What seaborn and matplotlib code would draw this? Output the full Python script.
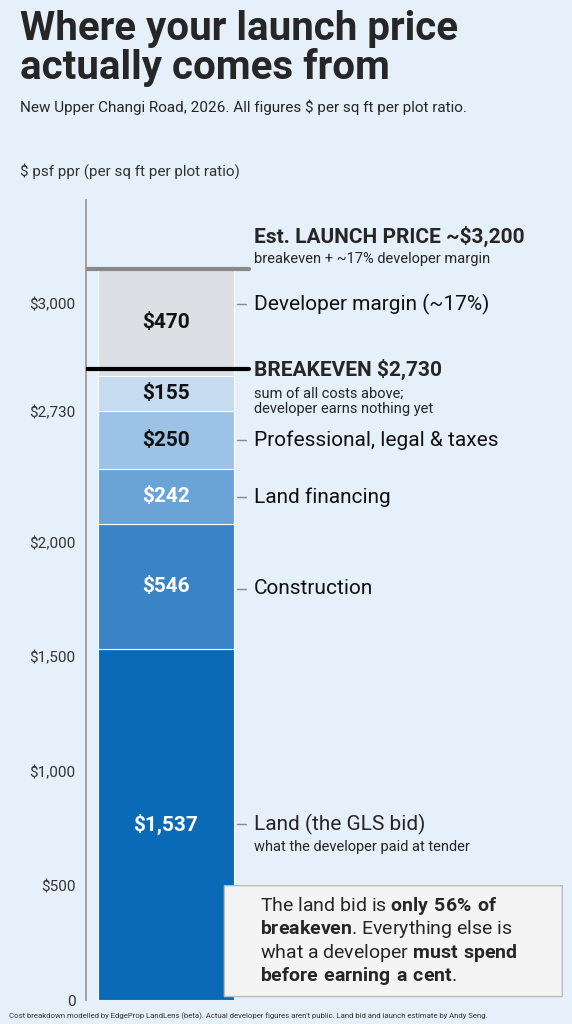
import matplotlib
matplotlib.use("Agg")
import matplotlib.pyplot as plt
import seaborn as sns
import pandas as pd
from matplotlib.patches import FancyBboxPatch

segments = ["Land (the GLS bid)", "Construction", "Land financing",
            "Professional, legal & taxes", "Breakeven gap", "Developer margin (~17%)"]
values = [1537, 546, 242, 250, 155, 470]
seg_labels = ["$1,537", "$546", "$242", "$250", "$155", "$470"]
colors = ["#0b6ab7", "#3a83c4", "#6aa3d5", "#9cc2e6", "#c4dbf0", "#dcdfe4"]
text_colors = ["white", "white", "white", "#111111", "#111111", "#111111"]
tick_vals = [0, 500, 1000, 1500, 2000, 2575, 3045]
tick_labels = ["0", "$500", "$1,000", "$1,500", "$2,000", "$2,730", "$3,000"]
breakeven = 2730
launch = 3200

bg = "#e6f0fa"
sns.set_theme(style="white")
plt.rcParams['font.family'] = ['Roboto', 'DejaVu Sans']
plt.rcParams['mathtext.fontset'] = 'custom'
plt.rcParams['mathtext.rm'] = 'Roboto'
plt.rcParams['mathtext.bf'] = 'Roboto:bold'

fig = plt.figure(figsize=(5.72, 10.24), dpi=100, facecolor=bg)
ax = fig.add_axes([0.15, 1 - 1000/1024, 0.85, 800/1024])
ax.set_facecolor(bg)
ax.set_xlim(0, 1)
ax.set_ylim(0, 3500)

df = pd.DataFrame({"seg": segments, "val": values})
bottom = 0
for i, v in enumerate(df["val"]):
    ax.bar(0.165, v, width=0.28, bottom=bottom, color=colors[i], edgecolor="white", linewidth=0.8, zorder=2)
    ax.text(0.165, bottom + v/2, seg_labels[i], ha="center", va="center",
            fontsize=15, fontweight="bold", color=text_colors[i], zorder=3)
    bottom += v

ax.set_yticks(tick_vals)
ax.set_yticklabels(tick_labels, fontsize=11, color="#333333")
ax.tick_params(axis="y", length=4, color="#888888")
ax.set_xticks([])
for s in ["top", "right", "bottom"]:
    ax.spines[s].set_visible(False)
ax.spines["left"].set_color("#999999")

ax.plot([0.0, 0.335], [launch, launch], color="#888888", lw=3, zorder=4)
ax.plot([0.0, 0.335], [breakeven + 30, breakeven + 30], color="black", lw=3, zorder=4)

def lab(y, title):
    ax.plot([0.31, 0.33], [y, y], color="#888888", lw=1)
    ax.text(0.345, y, title, ha="left", va="center", fontsize=15, color="#111111")

ax.text(0.345, launch + 140, "Est. LAUNCH PRICE ~$3,200", fontsize=15, fontweight="bold", va="center")
ax.text(0.345, launch + 40, "breakeven + ~17% developer margin", fontsize=10.5, va="center")
ax.text(0.345, breakeven + 30, "BREAKEVEN $2,730", fontsize=15, fontweight="bold", va="center")
ax.text(0.345, breakeven - 110, "sum of all costs above;\ndeveloper earns nothing yet", fontsize=10.5, va="center", linespacing=1.1)
lab(3045, "Developer margin (~17%)")
lab(2450, "Professional, legal & taxes")
lab(2200, "Land financing")
lab(1800, "Construction")
ax.plot([0.31, 0.33], [768, 768], color="#888888", lw=1)
ax.text(0.345, 768, "Land (the GLS bid)", fontsize=15, va="center")
ax.text(0.345, 670, "what the developer paid at tender", fontsize=10.5, va="center")

box = FancyBboxPatch((0.29, 15), 0.685, 485, boxstyle="round,pad=0.005,rounding_size=0.03",
                     transform=ax.transData, facecolor="#f4f4f4", edgecolor="#bbbbbb", lw=1, zorder=5)
ax.add_patch(box)
fig.text(0.455, 0.081, "The land bid is $\\bf{only\\ 56\\%\\ of}$\n$\\bf{breakeven}$. Everything else is\nwhat a developer $\\bf{must\\ spend}$\n$\\bf{before\\ earning\\ a\\ cent}$.",
         fontsize=14, va="center", ha="left", linespacing=1.1, zorder=6)

fig.text(0.035, 0.953, "Where your launch price\nactually comes from", fontsize=29, fontweight="bold",
         va="center", ha="left", linespacing=1.0)
fig.text(0.035, 0.895, "New Upper Changi Road, 2026. All figures $ per sq ft per plot ratio.",
         fontsize=11, va="center")
fig.text(0.035, 0.833, "$ psf ppr (per sq ft per plot ratio)", fontsize=11, va="center", color="#333333")
fig.text(0.015, 0.008, "Cost breakdown modelled by EdgeProp LandLens (beta). Actual developer figures aren't public. Land bid and launch estimate by Andy Seng.",
         fontsize=5.6, va="center", color="#333333")

fig.savefig("out.png", dpi=100, facecolor=bg)
